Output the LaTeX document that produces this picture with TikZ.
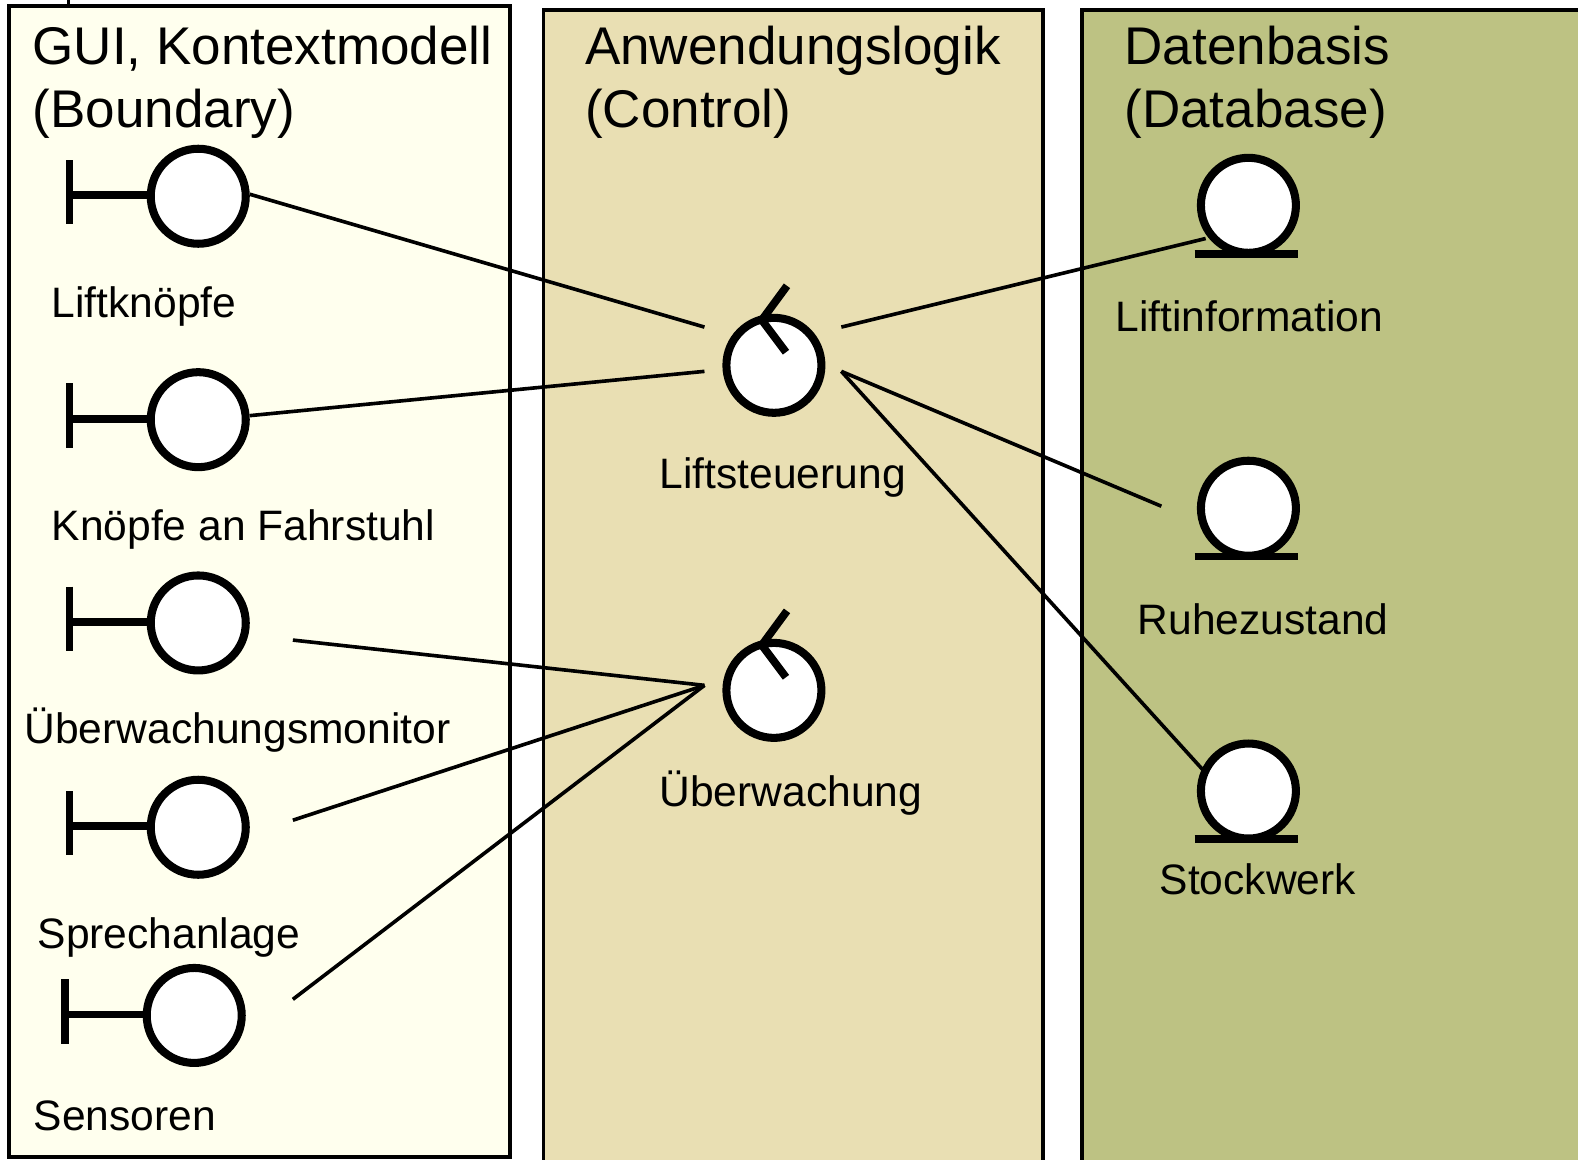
\documentclass[tikz,border=0pt]{standalone}
\usepackage{fontspec}
\usetikzlibrary{calc}
\setmainfont{Liberation Sans}
\definecolor{panelA}{RGB}{255,255,238}
\definecolor{panelB}{RGB}{233,223,179}
\definecolor{panelC}{RGB}{189,194,131}
\tikzset{
  panel/.style={draw=black,line width=1.9pt},
  heading/.style={anchor=base west,inner sep=0pt,font=\fontsize{26.35pt}{30pt}\selectfont},
  caption/.style={anchor=base west,inner sep=0pt,font=\fontsize{21.15pt}{25pt}\selectfont},
  ball/.style={circle,draw=black,fill=white,line width=4pt,minimum size=47.2pt,inner sep=0pt},
  glyph/.style={line width=3.9pt,line cap=butt},
  link/.style={line width=1.8pt,line cap=butt}
}
\begin{document}
\begin{tikzpicture}[x=0.5pt,y=-0.5pt]
\useasboundingbox (0,0) rectangle (1568,1152);
\clip (0,0) rectangle (1568,1152);
% panels
\draw[panel,fill=panelA] (9,6) rectangle (507,1150);
\draw[panel,fill=panelB] (540,10) rectangle (1036,1170);
\draw[panel,fill=panelC] (1075,10) rectangle (1590,1170);
% cropped remnant at the top
\coordinate (topA) at (68,-5);
\coordinate (topB) at (68,6);
\draw[line width=1.9pt] (topA) -- (topB);
% headings
\node[heading] (h1a) at (32,64) {GUI, Kontextmodell};
\node[heading] (h1b) at (32,127) {(Boundary)};
\node[heading] (h2a) at (581,64) {Anwendungslogik};
\node[heading] (h2b) at (581,127) {(Control)};
\node[heading] (h3a) at (1117,64) {Datenbasis};
\node[heading] (h3b) at (1117,127) {(Database)};
% boundary objects
\foreach \n/\x/\y in {b1/197/195,b2/197/417,b3/197/619,b4/197/822,b5/193/1009}{
  \node[ball] (\n) at (\x,\y) {};
  \coordinate (\n bar) at ($(\n)+(-128,-1)$);
  \draw[glyph] ($(\n bar)+(0,-35)$) -- ($(\n bar)+(0,29)$);
  \draw[glyph] (\n bar) -- ($(\n.west)+(0,-1)$);
}
% control objects
\foreach \n/\x/\y in {c1/769/363,c2/769/686}{
  \node[ball] (\n) at (\x,\y) {};
  \coordinate (\n tip) at ($(\n)+(13,-79)$);
  \coordinate (\n mid) at ($(\n)+(-12,-45)$);
  \coordinate (\n end) at ($(\n)+(12,-13)$);
  \draw[glyph,miter limit=10] (\n tip) -- (\n mid) -- (\n end);
}
% database objects
\foreach \n/\x/\y in {d1/1240.5/204,d2/1240.5/505,d3/1240.5/786}{
  \node[ball] (\n) at (\x,\y) {};
  \draw[glyph] ($(\n)+(-53.5,48)$) -- ($(\n)+(49.5,48)$);
}
% captions
\node[caption] (l1) at (51,315) {Liftknöpfe};
\node[caption] (l2) at (51,537) {Knöpfe an Fahrstuhl};
\node[caption] (l3) at (24,739) {Überwachungsmonitor};
\node[caption] (l4) at (37,942) {Sprechanlage};
\node[caption] (l5) at (33,1123) {Sensoren};
\node[caption] (l6) at (655,485) {Liftsteuerung};
\node[caption] (l7) at (655,801) {Überwachung};
\node[caption] (l8) at (1108,329) {Liftinformation};
\node[caption] (l9) at (1130,630) {Ruhezustand};
\node[caption] (l10) at (1152,889) {Stockwerk};
% connector ends
\coordinate (pb1) at ($(b1.east)+(0,-2)$);
\coordinate (pb2) at ($(b2.east)+(0,-4)$);
\coordinate (pb3) at (291,636);
\coordinate (pb4) at (291,815);
\coordinate (pb5) at (291,993);
\coordinate (c1a) at (700,325);
\coordinate (c1b) at (700,369);
\coordinate (c1c) at (836,325);
\coordinate (c1d) at (836,369);
\coordinate (c2a) at (700,681);
\coordinate (pd1) at (1198,237);
\coordinate (pd2) at (1154,503);
\coordinate (pd3) at (1198,768);
% connectors
\draw[link] (pb1) -- (c1a);
\draw[link] (pb2) -- (c1b);
\draw[link] (pb3) -- (c2a);
\draw[link] (pb4) -- (c2a);
\draw[link] (pb5) -- (c2a);
\draw[link] (c1c) -- (pd1);
\draw[link] (c1d) -- (pd2);
\draw[link] (c1d) -- (pd3);
\end{tikzpicture}
\end{document}
